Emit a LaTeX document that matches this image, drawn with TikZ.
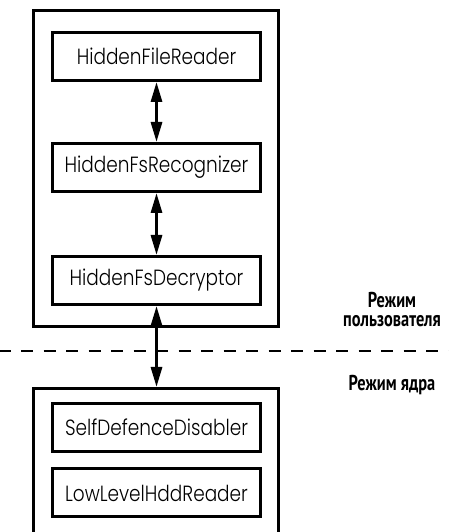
\documentclass[tikz,border=0pt]{standalone}
\usepackage{fontspec}
\newfontfamily\boxfont[FakeStretch=0.84]{Poppins Light}
\newfontfamily\modefont[FakeStretch=0.76]{PT Sans}
\usetikzlibrary{arrows.meta, positioning}

\begin{document}
\begin{tikzpicture}[
  x=1pt, y=1pt,
  frame/.style={draw, line width=3pt, inner sep=0pt},
  block/.style={draw, line width=3pt, inner sep=0pt, minimum width=208pt,
    minimum height=48pt, font=\boxfont\fontsize{22}{26}\selectfont},
  arr/.style={line width=3pt,
    {Triangle[length=20pt,width=11pt]}-{Triangle[length=20pt,width=11pt]}},
  sep/.style={line width=2.5pt, dash pattern=on 12pt off 10.5pt, dash phase=1.5pt},
  mode/.style={font=\modefont\bfseries\fontsize{21.5}{19}\selectfont, align=center}
]
  \useasboundingbox (0,0) rectangle (449,532);
  \clip (0,0) rectangle (449,532);
  \node[frame, minimum width=245pt, minimum height=316pt] (user) at (156,363.5) {};
  \node[block] (reader)  at (156.5,475.5) {HiddenFileReader};
  \node[block] (recog)   at (156.5,364.5) {HiddenFsRecognizer};
  \node[block] (decrypt) at (156.5,251.5) {HiddenFsDecryptor};
  \node[frame, minimum width=245pt, minimum height=160pt] (kernel) at (156,63.5) {};
  \node[block] (selfdef)  at (156.5,104.5) {SelfDefenceDisabler};
  \node[block] (lowlevel) at (156.5,39)    {LowLevelHddReader};
  \coordinate (sepl) at (0,181);
  \coordinate (sepr) at (449,181);
  \draw[sep] (sepl) -- (sepr);
  \draw[arr] (reader) -- (recog);
  \draw[arr] (recog) -- (decrypt);
  \draw[arr] (decrypt.south) -- (decrypt.south |- kernel.north);
  \node[mode] (userlbl) at (392,222) {Режим\\пользователя};
  \node[mode, anchor=base] (kernlbl) at (392,141) {Режим ядра};
\end{tikzpicture}
\end{document}
